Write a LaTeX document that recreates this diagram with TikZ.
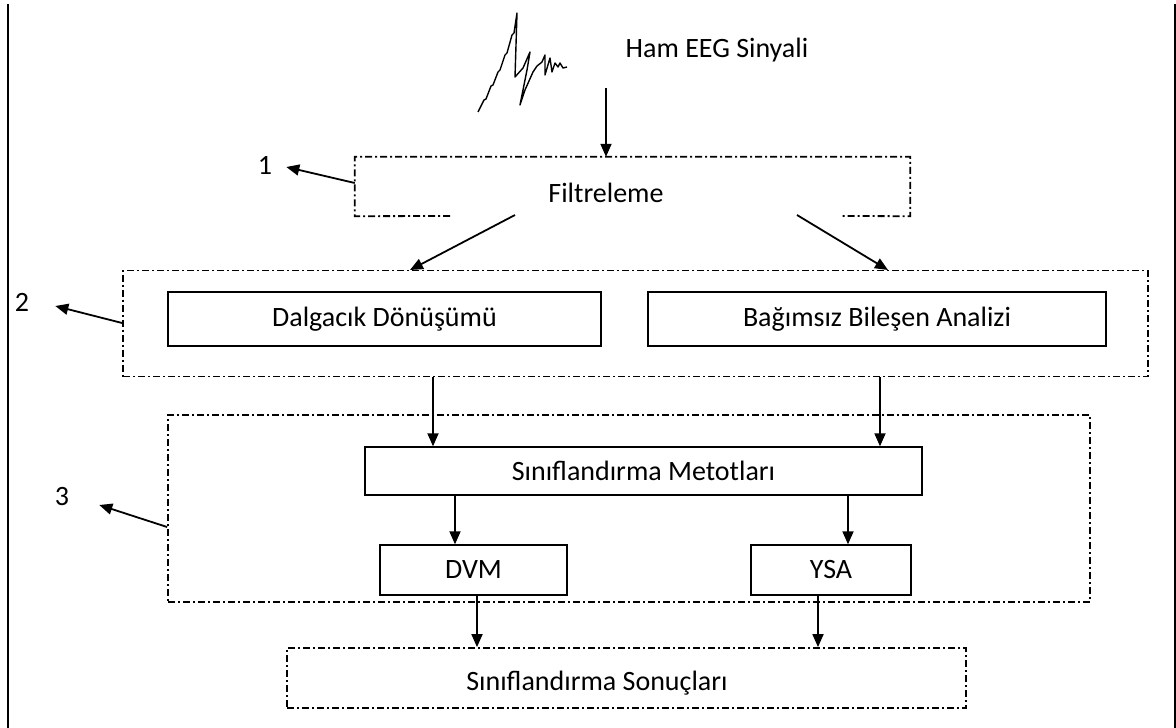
\documentclass[tikz,border=0pt]{standalone}
\usepackage{fontspec}
\setmainfont{Carlito}
\usetikzlibrary{arrows.meta,calc}
\tikzset{
  px/.style={x=1pt,y=-1pt},
  txt/.style={font=\fontsize{28}{32}\selectfont, inner sep=0pt},
  solidbox/.style={draw, line width=1.4pt, font=\fontsize{28}{32}\selectfont, inner sep=0pt},
  dashdot/.style={line width=1.8pt, dash pattern=on 7pt off 3pt on 2pt off 3pt},
  grp/.style={dashdot, draw, inner sep=0pt},
  arr/.style={line width=1.8pt, -{Triangle[length=13pt,width=11pt]}},
}
\begin{document}
\begin{tikzpicture}[px]
\useasboundingbox (0,0) rectangle (1176,728);
% page borders
\draw[line width=2pt] (8,4) -- (8,728);
\draw[line width=2pt] (1175,4) -- (1175,728);

% raw EEG squiggle
\draw[line width=1.4pt, line join=round] (478,112) -- (484,100) -- (486,99) -- (491,86) -- (493,85) -- (498,72) -- (500,70)
  -- (505,55) -- (507,53) -- (512,35) -- (514,33) -- (517,13)
  -- (515,77) -- (523,68) -- (530,52) -- (527,70) -- (520,105) -- (525,90) -- (533,72) -- (537,66)
  -- (542,62) -- (545,55) -- (545,75) -- (550,58) -- (552,72) -- (555,63) -- (558,67) -- (560,63) -- (563,68) -- (567,67);
\node[txt] (ham) at (717,50) {Ham EEG Sinyali};
\coordinate (hamA) at (606,88);

% Filtreleme
\node[txt, minimum width=555, minimum height=59] (filt) at (632.5,186.5) {};
\node[txt] (filtT) at (606,193) {Filtreleme};
\draw[dashdot] (450,216) -- (filt.south west) -- (filt.north west) -- (filt.north east) -- (filt.south east) -- (842,216);
\node[txt] (n1) at (265,165) {1};

% group 2
\node[grp, minimum width=1025, minimum height=106] (g2) at (635.5,323.5) {};
\node[txt] (n2) at (22,302) {2};
\node[solidbox, minimum width=433, minimum height=54] (dd) at (384.5,319) {Dalgacık Dönüşümü};
\node[solidbox, minimum width=458, minimum height=54] (bba) at (877,319) {Bağımsız Bileşen Analizi};

% group 3
\node[grp, minimum width=922, minimum height=187] (g3) at (629,508.5) {};
\node[txt] (n3) at (62,497) {3};
\node[solidbox, minimum width=557, minimum height=48] (sm) at (643.5,471) {Sınıflandırma Metotları};
\node[solidbox, minimum width=187, minimum height=50] (dvm) at (473.5,570) {DVM};
\node[solidbox, minimum width=160, minimum height=50] (ysa) at (831,570) {YSA};

% results
\node[grp, minimum width=679, minimum height=60] (sr) at (626.5,678) {};
\node[txt] (srT) at (597,683) {Sınıflandırma Sonuçları};

% connectors
\draw[arr] (hamA) -- (filt.north -| hamA);
\draw[arr] (filt.west |- 0,183) -- ($(n1.east)+(14,2)$);
\draw[arr] (515,215) -- (410,270);
\draw[arr] (797,215) -- (888,270);
\draw[arr] (g2.west |- 0,323) -- ($(n2.east)+(26,4)$);
\draw[arr] (433,377) -- (sm.north -| 433,0);
\draw[arr] (880,377) -- (sm.north -| 880,0);
\draw[arr] (g3.west |- 0,527) -- ($(n3.east)+(30,8)$);
\draw[arr] (455,495) -- (dvm.north -| 455,0);
\draw[arr] (848,495) -- (ysa.north -| 848,0);
\draw[arr] (dvm.south -| 477,0) -- (sr.north -| 477,0);
\draw[arr] (ysa.south -| 818,0) -- (sr.north -| 818,0);
\end{tikzpicture}
\end{document}
